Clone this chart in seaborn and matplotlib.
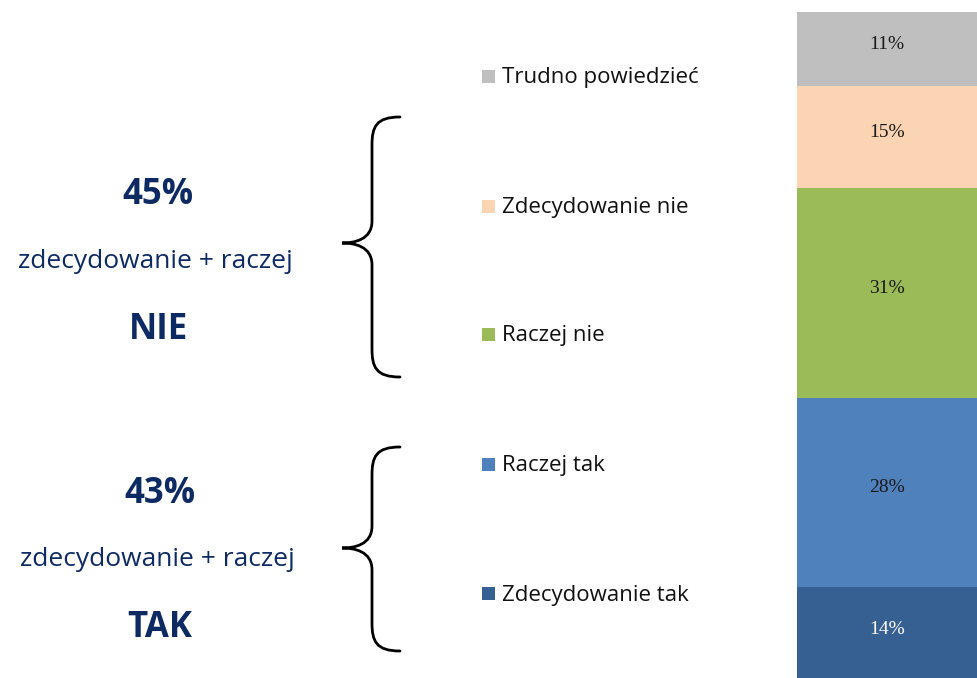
import matplotlib
matplotlib.use("Agg")
import matplotlib.pyplot as plt
from matplotlib.path import Path
from matplotlib.patches import PathPatch, Rectangle
import seaborn as sns

# Data (bottom -> top of the stacked bar)
categories = ["Zdecydowanie tak", "Raczej tak", "Raczej nie", "Zdecydowanie nie", "Trudno powiedzieć"]
values = [14, 28, 31, 15, 11]
colors = ["#376092", "#4f81bd", "#9bbb59", "#fbd4b4", "#bfbfbf"]
label_colors = ["white", "#1a1a1a", "#1a1a1a", "#1a1a1a", "#1a1a1a"]
summary_pct = ["45%", "43%"]
summary_word = ["NIE", "TAK"]
summary_sub = "zdecydowanie + raczej"

sns.set_theme(style="white")
plt.rcParams["font.family"] = ["Open Sans", "DejaVu Sans"]

W, H = 977, 678
fig = plt.figure(figsize=(W / 100, H / 100), dpi=100)

# stacked bar on the right
ax = fig.add_axes([797 / W, 0, (W - 797) / W, 1])
bottom = 0
for val, col, tcol in zip(values, colors, label_colors):
    sns.barplot(x=[0], y=[val], bottom=bottom, color=col, width=1,
                saturation=1, linewidth=0, ax=ax)
    ax.text(0, bottom + val / 2 + 0.7, f"{val}%", ha="center", va="center",
            fontsize=14, color=tcol, family=["Liberation Serif", "DejaVu Serif"])
    bottom += val
ax.set_xlim(-0.5, 0.5)
ax.set_ylim(0.59, 100.77)
ax.axis("off")

# overlay in pixel coords for legend, braces, summary text
ov = fig.add_axes([0, 0, 1, 1])
ov.set_xlim(0, W)
ov.set_ylim(H, 0)
ov.axis("off")

legend_y = [594, 465, 335, 207, 77]
for name, col, y in zip(categories, colors, legend_y):
    ov.add_patch(Rectangle((482, y - 7), 13, 13, facecolor=col, edgecolor="none"))
    ov.text(502, y + 1, name, ha="left", va="center", fontsize=16, color="#111111")


def brace(top, mid, bot, xl=372, tip=342, xr=400):
    verts = [(xr, top), (xl + 4, top), (xl, top + 10), (xl, top + 28),
             (xl, mid - 22),
             (xl, mid - 3), (tip + 12, mid), (tip, mid),
             (tip + 12, mid), (xl, mid + 3), (xl, mid + 22),
             (xl, bot - 28),
             (xl, bot - 10), (xl + 4, bot), (xr, bot)]
    codes = [Path.MOVETO, Path.CURVE4, Path.CURVE4, Path.CURVE4,
             Path.LINETO,
             Path.CURVE4, Path.CURVE4, Path.CURVE4,
             Path.CURVE4, Path.CURVE4, Path.CURVE4,
             Path.LINETO,
             Path.CURVE4, Path.CURVE4, Path.CURVE4]
    ov.add_patch(PathPatch(Path(verts, codes), facecolor="none",
                           edgecolor="black", lw=2, capstyle="round"))


brace(117, 243, 377)
brace(447, 548, 651)

navy = "#0d2a63"
for pct, word, (yp, ys, yw), xc in zip(summary_pct, summary_word,
                                       [(195, 261, 330), (494, 560, 628)], [158, 160]):
    ov.text(xc, yp, pct, ha="center", va="center", fontsize=25, fontweight="bold", color=navy)
    ov.text(xc - 3, ys, summary_sub, ha="center", va="center", fontsize=19, color=navy)
    ov.text(xc, yw, word, ha="center", va="center", fontsize=25, fontweight="bold", color=navy)

fig.savefig("out.png", dpi=100)
